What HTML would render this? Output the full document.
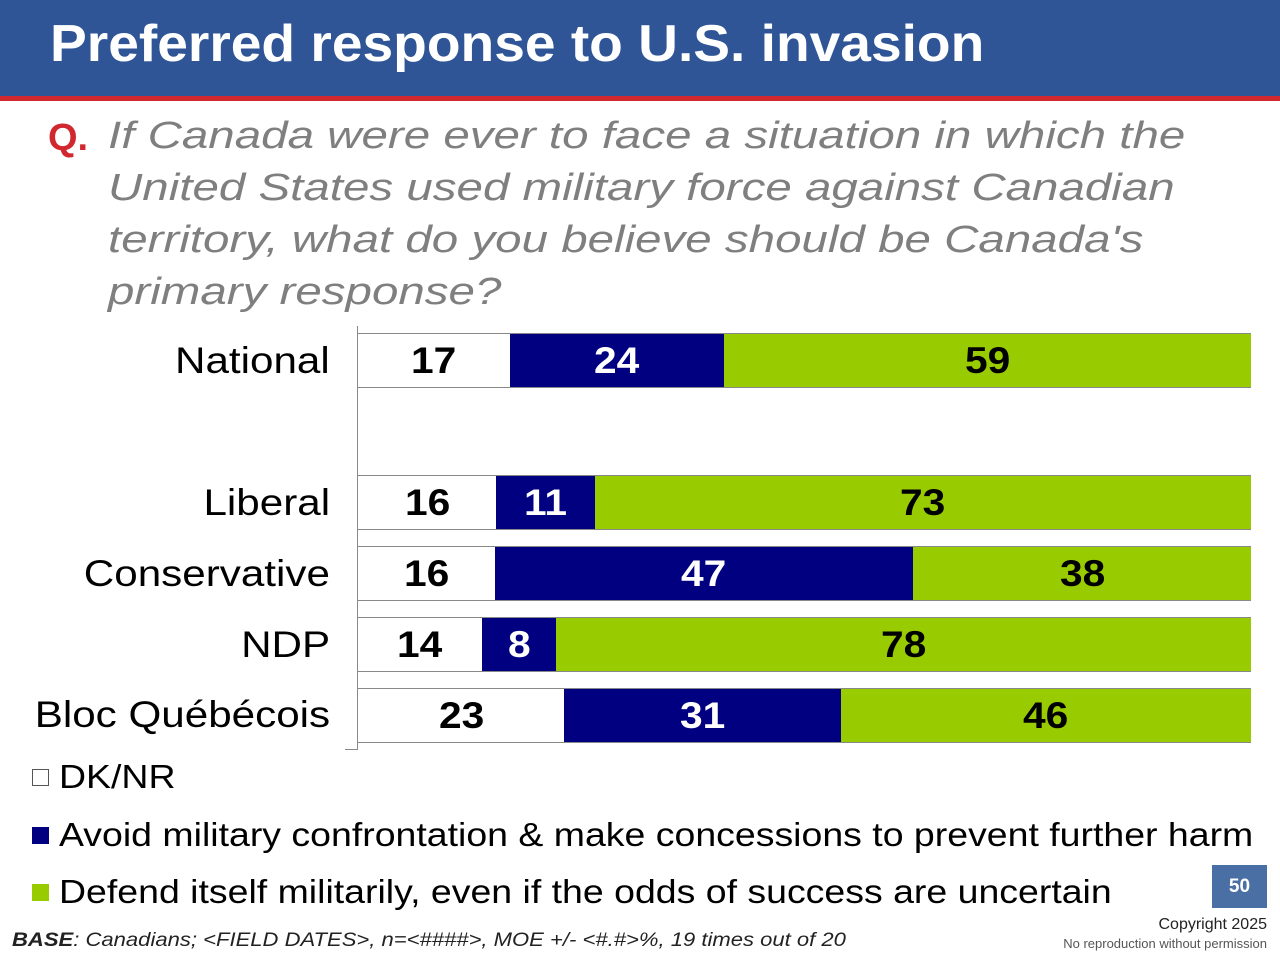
<!DOCTYPE html>
<html><head><meta charset="utf-8"><style>
body{margin:0;width:1280px;height:960px;background:#fff;position:relative;overflow:hidden;font-family:"Liberation Sans",sans-serif}
.a{position:absolute}
.hdr{left:0;top:0;width:1280px;height:96px;background:#2f5597}
.red{left:0;top:96px;width:1280px;height:5px;background:#d0282e}
.title{left:50px;top:14px;color:#fff;font-size:52px;font-weight:bold;white-space:nowrap;transform:scaleX(1.06);transform-origin:left}
.q{left:108px;color:#7f7f7f;font-style:italic;font-size:38px;line-height:52px;white-space:nowrap;transform:scaleX(1.25);transform-origin:left}
.ql{left:48px;top:112px;color:#d0282e;font-weight:bold;font-size:38px;line-height:52px}
.lbl{right:950px;font-size:37px;color:#000;white-space:nowrap;text-align:right;transform:scaleX(1.14);transform-origin:right}
.bar{left:358px;width:893px;height:55px;display:flex;border-top:1px solid #888;border-bottom:1px solid #888;box-sizing:border-box}
.bar div{display:flex;align-items:center;justify-content:center;font-weight:bold;font-size:37px}
.bar span{display:inline-block;transform:scaleX(1.1)}
.w{background:#fff;color:#000}.b{background:#000080;color:#fff}.g{background:#99cc00;color:#000}
.leg{left:32px;font-size:33px;color:#000;white-space:nowrap;display:flex;align-items:center}
.leg span{display:inline-block;transform:scaleX(1.135);transform-origin:left}
.sw{width:17px;height:17px;margin-right:10px;box-sizing:border-box}
</style></head><body>
<div class="a hdr"></div><div class="a red"></div>
<div class="a title">Preferred response to U.S. invasion</div>
<div class="a ql">Q.</div>
<div class="a q" style="top:110px">If Canada were ever to face a situation in which the</div>
<div class="a q" style="top:162px">United States used military force against Canadian</div>
<div class="a q" style="top:214px">territory, what do you believe should be Canada's</div>
<div class="a q" style="top:266px">primary response?</div>
<div class="a" style="left:357px;top:326px;width:1px;height:424px;background:#888"></div>
<div class="a" style="left:345px;top:749px;width:12px;height:1px;background:#888"></div>

<div class="a lbl" style="top:340px">National</div>
<div class="a bar" style="top:333px"><div class="w" style="width:17%"><span>17</span></div><div class="b" style="width:24%"><span>24</span></div><div class="g" style="width:59%"><span>59</span></div></div>
<div class="a lbl" style="top:482px">Liberal</div>
<div class="a bar" style="top:475px"><div class="w" style="width:15.5%"><span>16</span></div><div class="b" style="width:11%"><span>11</span></div><div class="g" style="width:73.5%"><span>73</span></div></div>
<div class="a lbl" style="top:553px">Conservative</div>
<div class="a bar" style="top:546px"><div class="w" style="width:15.3%"><span>16</span></div><div class="b" style="width:46.9%"><span>47</span></div><div class="g" style="width:37.8%"><span>38</span></div></div>
<div class="a lbl" style="top:624px">NDP</div>
<div class="a bar" style="top:617px"><div class="w" style="width:13.9%"><span>14</span></div><div class="b" style="width:8.3%"><span>8</span></div><div class="g" style="width:77.8%"><span>78</span></div></div>
<div class="a lbl" style="top:694px">Bloc Québécois</div>
<div class="a bar" style="top:688px"><div class="w" style="width:23.1%"><span>23</span></div><div class="b" style="width:31%"><span>31</span></div><div class="g" style="width:45.9%"><span>46</span></div></div>

<div class="a leg" style="top:758px"><div class="sw" style="border:1px solid #555;background:#fff"></div><span>DK/NR</span></div>
<div class="a leg" style="top:816px"><div class="sw" style="background:#000080"></div><span>Avoid military confrontation &amp; make concessions to prevent further harm</span></div>
<div class="a leg" style="top:873px"><div class="sw" style="background:#99cc00"></div><span>Defend itself militarily, even if the odds of success are uncertain</span></div>

<div class="a" style="left:1212px;top:865px;width:55px;height:43px;background:#4a6fa5;color:#fff;font-weight:bold;font-size:19px;display:flex;align-items:center;justify-content:center">50</div>
<div class="a" style="right:13px;top:916px;font-size:16px;color:#222">Copyright 2025</div>
<div class="a" style="right:13px;top:936px;font-size:13px;color:#555">No reproduction without permission</div>
<div class="a" style="left:12px;top:930px;font-size:19px;font-style:italic;color:#222;white-space:nowrap;transform:scaleX(1.16);transform-origin:left"><b>BASE</b>: Canadians; &lt;FIELD DATES&gt;, n=&lt;####&gt;, MOE +/- &lt;#.#&gt;%, 19 times out of 20</div>
</body></html>
